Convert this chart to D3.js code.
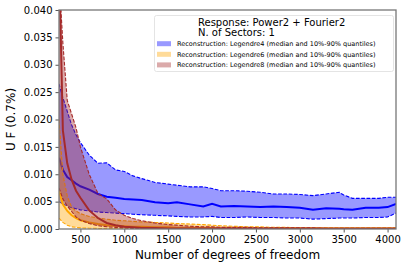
<!DOCTYPE html>
<html>
<head>
<meta charset="utf-8">
<script src="https://cdn.jsdelivr.net/npm/d3@7"></script>
<style>
  body { margin: 0; background: #fff; }
  text { font-family: "DejaVu Sans", sans-serif; fill: #000; }
</style>
</head>
<body>
<div class="chart"></div>
<script>
// degrees of freedom (x grid shared by all series)
let dof = [256, 300, 350, 400, 450, 500, 600, 700, 800, 900, 1000, 1100, 1200, 1350, 1500, 1600, 1750, 1900,
  2000, 2100, 2250, 2400, 2550, 2700, 2850, 3000, 3150, 3300, 3450, 3500, 3600, 3750, 3900, 4000, 4096];

// Legendre4: median, 10% and 90% quantiles
let med4 = [0.0130, 0.0108, 0.0095, 0.0089, 0.0083, 0.0078, 0.0072, 0.0064, 0.0059, 0.0057, 0.0055, 0.0054, 0.0053, 0.0049, 0.0047, 0.0049, 0.0045, 0.0041,
  0.0046, 0.0041, 0.0042, 0.0041, 0.0040, 0.0041, 0.0040, 0.0039, 0.0035, 0.0038, 0.0037, 0.0036, 0.0035, 0.0039, 0.0039, 0.0040, 0.0046];
let lo4 = [0.0050, 0.0046, 0.0042, 0.0039, 0.0037, 0.0035, 0.0033, 0.0031, 0.0030, 0.0029, 0.0028, 0.0027, 0.0026, 0.0025, 0.0024, 0.0023, 0.0022, 0.0022,
  0.0023, 0.0021, 0.0021, 0.0022, 0.0021, 0.0021, 0.0020, 0.0020, 0.0018, 0.0019, 0.0020, 0.0020, 0.0020, 0.0021, 0.0021, 0.0022, 0.0029];
let hi4 = [0.0265, 0.0240, 0.0215, 0.0190, 0.0172, 0.0158, 0.0135, 0.0120, 0.0121, 0.0108, 0.0105, 0.0097, 0.0092, 0.0085, 0.0082, 0.0080, 0.0077, 0.0077,
  0.0074, 0.0070, 0.0070, 0.0069, 0.0067, 0.0064, 0.0064, 0.0063, 0.0061, 0.0064, 0.0067, 0.0062, 0.0056, 0.0056, 0.0056, 0.0058, 0.0058];

// Legendre6
let med6 = [0.0070, 0.0045, 0.0033, 0.0025, 0.0020, 0.0016, 0.0012, 0.0009, 0.0007, 0.0006, 0.0005, 0.0004, 0.0004, 0.0003, 0.0003, 0.0002, 0.0002, 0.0002,
  0.0002, 0.0001, 0.0001, 0.0001, 0.0001, 0.0001, 0.0001, 0.0001, 0.0001, 0.0001, 0.0001, 0.0001, 0.0001, 0.0001, 0.0001, 0.0001, 0.0001];
let lo6 = [0.0020, 0.0012, 0.0007, 0.0004, 0.0003, 0.0002, 0.00015, 0.0001, 0.00008, 0.00006, 0.00005, 0.00004, 0.00004, 0.00003, 0.00003, 0.00003, 0.00003, 0.00003,
  0.00003, 0.00003, 0.00003, 0.00003, 0.00003, 0.00003, 0.00003, 0.00003, 0.00003, 0.00003, 0.00003, 0.00003, 0.00003, 0.00003, 0.00003, 0.00003, 0.00003];
let hi6 = [0.0200, 0.0100, 0.0060, 0.0040, 0.0033, 0.0028, 0.0023, 0.0020, 0.0018, 0.0016, 0.0015, 0.0014, 0.0013, 0.0012, 0.0011, 0.0010, 0.0009, 0.0008,
  0.0007, 0.0006, 0.0005, 0.0004, 0.0004, 0.0003, 0.0003, 0.0002, 0.0002, 0.0002, 0.0002, 0.0002, 0.0002, 0.0002, 0.0002, 0.0002, 0.0002];

// Legendre8
let med8 = [0.0500, 0.0180, 0.0120, 0.0090, 0.0070, 0.0057, 0.0034, 0.0020, 0.0011, 0.0007, 0.0004, 0.0003, 0.0002, 0.0002, 0.0001, 0.0001, 0.0001, 0.0001,
  0.0001, 0.0001, 0.0001, 0.0001, 0.0001, 0.0001, 0.0001, 0.0001, 0.0001, 0.0001, 0.0001, 0.0001, 0.0001, 0.0001, 0.0001, 0.0001, 0.0001];
let lo8 = [0.0075, 0.0055, 0.0042, 0.0032, 0.0022, 0.0016, 0.0010, 0.0006, 0.0004, 0.0003, 0.0002, 0.0001, 0.0001, 0.0001, 0.0001, 0.0001, 0.0001, 0.0001,
  0.0001, 0.0001, 0.0001, 0.0001, 0.0001, 0.0001, 0.0001, 0.0001, 0.0001, 0.0001, 0.0001, 0.0001, 0.0001, 0.0001, 0.0001, 0.0001, 0.0001];
let hi8 = [0.0460, 0.0340, 0.0235, 0.0210, 0.0185, 0.0150, 0.0100, 0.0065, 0.0055, 0.0035, 0.0025, 0.0019, 0.0015, 0.0011, 0.0008, 0.0007, 0.0005, 0.0004,
  0.0004, 0.0003, 0.0003, 0.0003, 0.0002, 0.0002, 0.0002, 0.0002, 0.0002, 0.0001, 0.0001, 0.0001, 0.0001, 0.0001, 0.0001, 0.0001, 0.0001];

let xTicks = [500, 1000, 1500, 2000, 2500, 3000, 3500, 4000];
let yTicks = [0, 0.005, 0.01, 0.015, 0.02, 0.025, 0.03, 0.035, 0.04];

let legendTitle = ["Response: Power2 + Fourier2", "N. of Sectors: 1"];
let seriesNames = ["Legendre4", "Legendre6", "Legendre8"];
let seriesColors = ["#0000ff", "#ffa500", "#a52a2a"];

let width = 407, height = 269;
let margin = {left: 59, right: 11, top: 10, bottom: 40};

let svg = d3.select(".chart").append("svg")
  .attr("width", width)
  .attr("height", height);

let x = d3.scaleLinear().domain([256, 4096]).range([margin.left, width - margin.right]);
let y = d3.scaleLinear().domain([0, 0.04]).range([height - margin.bottom, margin.top]);

svg.append("defs").append("clipPath")
  .attr("id", "plotclip")
  .append("rect")
  .attr("x", margin.left)
  .attr("y", margin.top)
  .attr("width", width - margin.left - margin.right)
  .attr("height", height - margin.top - margin.bottom);

let plot = svg.append("g").attr("clip-path", "url(#plotclip)");

let series = [
  {med: med4, lo: lo4, hi: hi4},
  {med: med6, lo: lo6, hi: hi6},
  {med: med8, lo: lo8, hi: hi8}
];

series.forEach(function(s, k) {
  let col = seriesColors[k];
  let rows = dof.map(function(d, i) { return {x: d, m: s.med[i], l: s.lo[i], h: s.hi[i]}; });

  let area = d3.area()
    .x(function(d) { return x(d.x); })
    .y0(function(d) { return y(d.l); })
    .y1(function(d) { return y(d.h); });

  plot.append("path")
    .datum(rows)
    .attr("d", area)
    .attr("fill", col)
    .attr("fill-opacity", 0.4);

  ["l", "h"].forEach(function(key) {
    plot.append("path")
      .datum(rows)
      .attr("d", d3.line().x(function(d) { return x(d.x); }).y(function(d) { return y(d[key]); }))
      .attr("fill", "none")
      .attr("stroke", col)
      .attr("stroke-width", 1.1)
      .attr("stroke-dasharray", "3.7,1.6");
  });

  plot.append("path")
    .datum(rows)
    .attr("d", d3.line().x(function(d) { return x(d.x); }).y(function(d) { return y(d.m); }))
    .attr("fill", "none")
    .attr("stroke", col)
    .attr("stroke-width", 2);
});

// axes
let xAxis = svg.append("g")
  .attr("transform", "translate(0," + (height - margin.bottom) + ")")
  .call(d3.axisBottom(x).tickValues(xTicks).tickSize(3.5).tickPadding(3).tickFormat(d3.format("d")));
let yAxis = svg.append("g")
  .attr("transform", "translate(" + margin.left + ",0)")
  .call(d3.axisLeft(y).tickValues(yTicks).tickSize(3.5).tickPadding(3).tickFormat(d3.format(".3f")));

[xAxis, yAxis].forEach(function(a) {
  a.select(".domain").remove();
  a.selectAll(".tick line").attr("stroke", "#555");
  a.selectAll(".tick text").attr("font-size", 10).attr("font-family", "DejaVu Sans").attr("fill", "#000");
});

svg.append("rect")
  .attr("x", margin.left)
  .attr("y", margin.top)
  .attr("width", width - margin.left - margin.right)
  .attr("height", height - margin.top - margin.bottom)
  .attr("fill", "none")
  .attr("stroke", "#777")
  .attr("stroke-width", 1.3);

svg.append("text")
  .attr("x", (margin.left + width - margin.right) / 2)
  .attr("y", 259)
  .attr("text-anchor", "middle")
  .attr("font-size", 12)
  .text("Number of degrees of freedom");

svg.append("text")
  .attr("transform", "translate(15," + ((margin.top + height - margin.bottom) / 2) + ") rotate(-90)")
  .attr("text-anchor", "middle")
  .attr("font-size", 12)
  .text("U F (0.7%)");

// legend
let lg = svg.append("g");
lg.append("rect")
  .attr("x", 154.5).attr("y", 15.5)
  .attr("width", 239).attr("height", 56)
  .attr("rx", 2)
  .attr("fill", "#fff").attr("fill-opacity", 0.8)
  .attr("stroke", "#ddd").attr("stroke-width", 0.8);

lg.selectAll(".ltitle")
  .data(legendTitle)
  .enter().append("text")
  .attr("class", "ltitle")
  .attr("x", 198)
  .attr("y", function(d, i) { return 26 + i * 9.8; })
  .attr("font-size", 10)
  .text(function(d) { return d; });

let rowsL = lg.selectAll(".lrow")
  .data(seriesNames)
  .enter().append("g")
  .attr("class", "lrow")
  .attr("transform", function(d, i) { return "translate(0," + (43.7 + i * 10.6) + ")"; });

rowsL.append("rect")
  .attr("x", 157).attr("y", -2.5)
  .attr("width", 14).attr("height", 5)
  .attr("fill", function(d, i) { return seriesColors[i]; })
  .attr("fill-opacity", 0.4);

rowsL.append("text")
  .attr("x", 177).attr("y", 2.3)
  .attr("font-size", 6.5)
  .text(function(d) { return "Reconstruction: " + d + " (median and 10%-90% quantiles)"; });
</script>
</body>
</html>
